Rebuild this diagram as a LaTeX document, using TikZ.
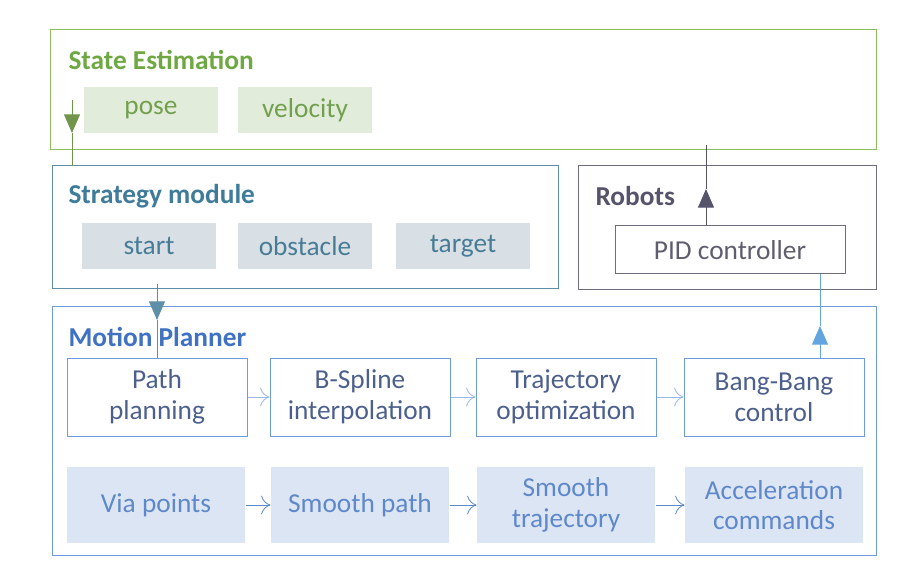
\documentclass[tikz,border=0pt]{standalone}
\usepackage{fontspec}
\setmainfont{Carlito}
\usetikzlibrary{arrows.meta}
\definecolor{segreen}{HTML}{8DBB5E}
\definecolor{setext}{HTML}{6FA843}
\definecolor{sefill}{HTML}{E2ECDA}
\definecolor{stline}{HTML}{5D90A8}
\definecolor{sttext}{HTML}{3E7C9A}
\definecolor{stfill}{HTML}{D8E0E5}
\definecolor{roline}{HTML}{6E6C7E}
\definecolor{rotext}{HTML}{56546A}
\definecolor{mpline}{HTML}{6E9BDB}
\definecolor{mptext}{HTML}{3F72C2}
\definecolor{mpfill}{HTML}{DCE5F4}
\definecolor{mpsoft}{HTML}{5E88C9}
\tikzset{every picture/.style={line width=0.75pt}}
\tikzset{
  title/.style={anchor=west,inner sep=0.75pt,font=\fontsize{20.5}{24}\selectfont\bfseries},
  item/.style={minimum width=100.5pt,minimum height=35pt,inner sep=0pt,font=\fontsize{20.5}{24}\selectfont},
  stage/.style={draw=mpline,text=rotext!60!mptext,minimum width=135pt,minimum height=58.5pt,inner sep=0pt,align=center,font=\fontsize{20.5}{23}\selectfont},
  flow/.style={draw=mpline!70,-{To[length=7pt,width=14pt]},line width=0.6pt},
}
\begin{document}
\begin{tikzpicture}[x=0.75pt,y=0.75pt,yscale=-1,xscale=1]
\useasboundingbox (0,0) rectangle (918,581);

%Shape: Rectangle [id:stateest]
\draw [draw=segreen] (50,30) -- (876,30) -- (876,150) -- (50,150) -- cycle ;
%Shape: Rectangle [id:strategy]
\draw [draw=stline] (52,166) -- (558,166) -- (558,288) -- (52,288) -- cycle ;
%Shape: Rectangle [id:robots]
\draw [draw=roline] (578,166) -- (876,166) -- (876,289) -- (578,289) -- cycle ;
%Shape: Rectangle [id:planner]
\draw [draw=mpline] (52,306) -- (876,306) -- (876,555) -- (52,555) -- cycle ;

% Text Node
\draw (67,60) node [title,text=setext] (setitle) {State Estimation};
\draw (67,196) node [title,text=sttext] (sttitle) {Strategy module};
\draw (594,196) node [title,text=rotext] (rotitle) {Robots};
\draw (67,337) node [title,text=mptext] (mptitle) {Motion Planner};

% State items
\node [item,fill=sefill,text=setext!80!gray] (pose) at (151,110) {pose};
\node [item,fill=sefill,text=setext!80!gray] (velocity) at (305,110) {velocity};
% Strategy items
\node [item,fill=stfill,text=sttext!85!gray] (start) at (149,246) {start};
\node [item,fill=stfill,text=sttext!85!gray] (obstacle) at (305,246) {obstacle};
\node [item,fill=stfill,text=sttext!85!gray] (target) at (463,246) {target};

% PID
\node [draw=roline,text=rotext!80!gray,minimum width=172.5pt,minimum height=36pt,font=\fontsize{20.5}{24}\selectfont] (pid) at (730,250) {PID controller};

% Planner stages
\node [stage] (path) at (157,397) {Path\\planning};
\node [stage] (bspline) at (360,397) {B-Spline\\interpolation};
\node [stage] (traj) at (566,397) {Trajectory\\optimization};
\node [stage] (bang) at (774,397) {Bang-Bang\\control};

\node [stage,draw=none,fill=mpfill,text=mpsoft,minimum width=133.5pt,minimum height=57pt] (via) at (156,505) {Via points};
\node [stage,draw=none,fill=mpfill,text=mpsoft,minimum width=133.5pt,minimum height=57pt] (smooth) at (360,505) {Smooth path};
\node [stage,draw=none,fill=mpfill,text=mpsoft,minimum width=133.5pt,minimum height=57pt] (smtraj) at (566,505) {Smooth\\trajectory};
\node [stage,draw=none,fill=mpfill,text=mpsoft,minimum width=133.5pt,minimum height=57pt] (accel) at (774,505) {Acceleration\\commands};

% Flow arrows
\draw [flow] (path) -- (bspline);
\draw [flow] (bspline) -- (traj);
\draw [flow] (traj) -- (bang);
\draw [flow,draw=mpsoft] (via) -- (smooth);
\draw [flow,draw=mpsoft] (smooth) -- (smtraj);
\draw [flow,draw=mpsoft] (smtraj) -- (accel);

% Vertical links
\coordinate (gtop) at (72,100);
\coordinate (gtip) at (72,133);
\draw [segreen!80!black,-{Triangle[length=14pt,width=12pt]}] (gtop) -- (gtip);
\draw [segreen!80!black] (gtip) -- (72,166);
\coordinate (btop) at (157,284);
\coordinate (btip) at (157,320);
\draw [stline,-{Triangle[length=14pt,width=12pt]}] (btop) -- (btip);
\draw [stline] (btip) -- (path.north);
\coordinate (ptip) at (706,189);
\draw [rotext,-{Triangle[length=14pt,width=12pt]}] (pid.north -| ptip) -- (ptip);
\draw [rotext] (ptip) -- (706,145);
\coordinate (ltip) at (820,326);
\draw [mpline!90!cyan,-{Triangle[length=14pt,width=12pt]}] (bang.north -| ltip) -- (ltip);
\draw [mpline!90!cyan] (ltip) -- (pid.south -| ltip);

\end{tikzpicture}
\end{document}
